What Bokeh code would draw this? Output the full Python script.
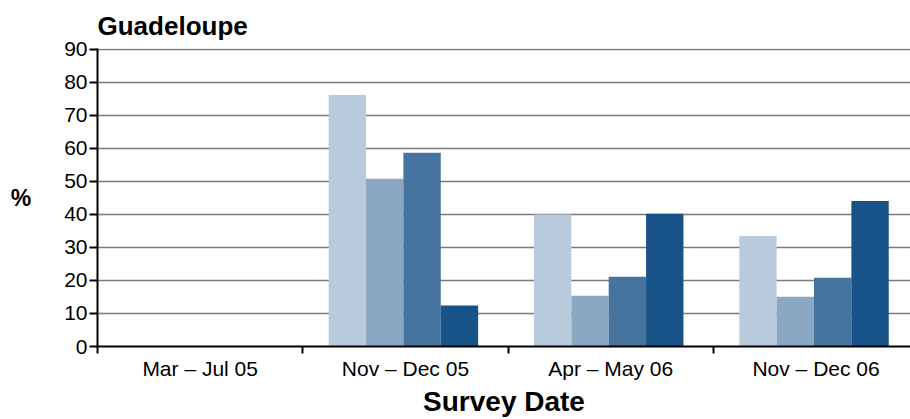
import math
from bokeh.plotting import figure
from bokeh.models import ColumnDataSource, Range1d, FixedTicker
from bokeh.transform import dodge
from bokeh.embed import file_html
from bokeh.resources import INLINE

categories = ["Mar – Jul 05", "Nov – Dec 05", "Apr – May 06", "Nov – Dec 06"]
series1 = [math.nan, 76.2, 40.0, 33.5]
series2 = [math.nan, 50.8, 15.4, 15.1]
series3 = [math.nan, 58.7, 21.1, 20.8]
series4 = [math.nan, 12.4, 40.2, 44.1]
y_ticks = [0, 10, 20, 30, 40, 50, 60, 70, 80, 90]
colors = ["#B8CADB", "#8BA8C2", "#45749E", "#175288"]

centers = [i + 0.5 for i in range(len(categories))]
source = ColumnDataSource(dict(x=centers, s1=series1, s2=series2, s3=series3, s4=series4))

FONT = "Liberation Sans"

p = figure(width=910, height=419, output_backend="svg", toolbar_location=None,
           x_range=Range1d(0, 3.96), y_range=Range1d(0, 90.3),
           min_border_left=97, min_border_right=0, min_border_top=48, min_border_bottom=72)
p.outline_line_color = None
p.background_fill_color = "white"
p.border_fill_color = "white"

bw = 0.182
for k, (col, c) in enumerate(zip(["s1", "s2", "s3", "s4"], colors)):
    p.vbar(x=dodge("x", (k - 1.5) * bw - 0.01), top=col, bottom=0, width=bw, source=source,
           fill_color=c, line_color=None)

p.title.text = "Guadeloupe"
p.title.text_font = FONT
p.title.text_font_size = "26px"
p.title.text_font_style = "bold"
p.title.text_color = "black"
p.title.align = "left"
p.title.offset = 0
p.title.standoff = 15

xa = p.xaxis[0]
xa.ticker = FixedTicker(ticks=centers, minor_ticks=[0, 1, 2, 3, 4])
xa.major_label_overrides = {c: lab for c, lab in zip(centers, categories)}
xa.major_tick_out = 0
xa.major_tick_in = 0
xa.minor_tick_out = 7
xa.minor_tick_in = 0
xa.minor_tick_line_color = "black"
xa.minor_tick_line_width = 2
xa.axis_line_color = "black"
xa.axis_line_width = 2
xa.major_label_text_font = FONT
xa.major_label_text_font_size = "21px"
xa.major_label_text_color = "black"
xa.major_label_standoff = 3
xa.axis_label = "Survey Date"
xa.axis_label_text_font = FONT
xa.axis_label_text_font_size = "28px"
xa.axis_label_text_font_style = "bold"
xa.axis_label_text_color = "black"
xa.axis_label_standoff = 3

ya = p.yaxis[0]
ya.ticker = FixedTicker(ticks=y_ticks)
ya.major_tick_out = 8
ya.major_tick_in = 0
ya.major_tick_line_color = "black"
ya.major_tick_line_width = 2
ya.minor_tick_out = 0
ya.minor_tick_in = 0
ya.axis_line_color = "black"
ya.axis_line_width = 2
ya.major_label_text_font = FONT
ya.major_label_text_font_size = "21px"
ya.major_label_text_color = "black"
ya.major_label_standoff = 2
ya.axis_label = "%"
ya.axis_label_orientation = "horizontal"
ya.axis_label_text_font = FONT
ya.axis_label_text_font_size = "23px"
ya.axis_label_text_font_style = "bold"
ya.axis_label_text_color = "black"
ya.axis_label_standoff = 30

p.xgrid.visible = False
p.ygrid.ticker = FixedTicker(ticks=y_ticks)
p.ygrid.grid_line_color = "#7A7A7A"
p.ygrid.grid_line_width = 1.6

open("out.html", "w").write(file_html(p, INLINE))
